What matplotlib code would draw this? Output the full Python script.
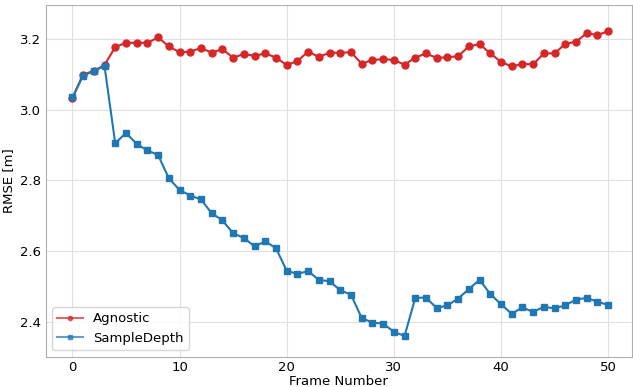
import numpy as np
import matplotlib.pyplot as plt

frames = np.arange(51)

agnostic = [3.033, 3.100, 3.110, 3.127, 3.178, 3.190, 3.190, 3.190, 3.205, 3.180,
            3.163, 3.165, 3.175, 3.162, 3.172, 3.148, 3.158, 3.153, 3.160, 3.148,
            3.127, 3.138, 3.165, 3.150, 3.162, 3.162, 3.163, 3.131, 3.141, 3.144,
            3.141, 3.128, 3.148, 3.160, 3.147, 3.149, 3.152, 3.180, 3.186, 3.160,
            3.136, 3.123, 3.130, 3.129, 3.160, 3.160, 3.187, 3.193, 3.217, 3.212,
            3.223]

sample_depth = [3.035, 3.097, 3.110, 3.124, 2.905, 2.935, 2.903, 2.885, 2.872, 2.806,
                2.773, 2.757, 2.746, 2.707, 2.687, 2.650, 2.637, 2.613, 2.627, 2.608,
                2.544, 2.535, 2.543, 2.518, 2.514, 2.489, 2.476, 2.410, 2.397, 2.394,
                2.371, 2.359, 2.467, 2.468, 2.438, 2.446, 2.465, 2.492, 2.518, 2.478,
                2.449, 2.422, 2.440, 2.427, 2.442, 2.437, 2.446, 2.462, 2.467, 2.456,
                2.447]

fig, ax = plt.subplots(figsize=(6.33, 3.87), dpi=100)
fig.subplots_adjust(left=0.072, right=0.998, top=0.987, bottom=0.078)

ax.plot(frames, agnostic, color="#d62728", marker="o", markersize=5,
        linewidth=1.5, label="Agnostic")
ax.plot(frames, sample_depth, color="#1f77b4", marker="s", markersize=5,
        linewidth=1.5, label="SampleDepth")

ax.set_xlim(-2.5, 52.2)
ax.set_ylim(2.3, 3.297)
ax.set_xticks([0, 10, 20, 30, 40, 50])
ax.set_yticks([2.4, 2.6, 2.8, 3.0, 3.2])
ax.grid(True, color="#e0e0e0", linewidth=0.8)
ax.set_axisbelow(True)
for s in ax.spines.values():
    s.set_color("#b0b0b0")
ax.tick_params(axis="both", labelsize=9.5, length=0, pad=3)

ax.set_xlabel("Frame Number", fontsize=9.5, labelpad=1)
ax.set_ylabel("RMSE [m]", fontsize=9.5, labelpad=4)
leg = ax.legend(loc="lower left", fontsize=9.5, markerscale=0.6, handlelength=1.9)
for h in leg.legend_handles:
    h.set_alpha(0.7)

fig.savefig("out.png")
